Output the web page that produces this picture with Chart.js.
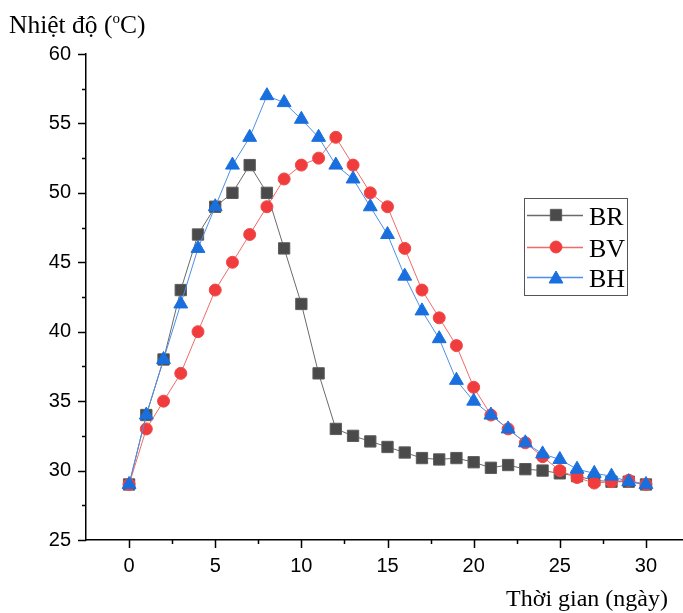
<!DOCTYPE html>
<html>
<head>
<meta charset="utf-8">
<script src="https://cdn.jsdelivr.net/npm/chart.js@4/dist/chart.umd.min.js"></script>
<style>
  html, body { margin: 0; padding: 0; background: #fff; overflow: hidden; }
  #wrap { position: relative; width: 683px; height: 613px; }
</style>
</head>
<body>
<div id="wrap"><canvas id="tempChart" width="683" height="613"></canvas></div>
<script>
// ─── Data ─────────────────────────────────────────────────────────────────────
const days = [0, 1, 2, 3, 4, 5, 6, 7, 8, 9, 10, 11, 12, 13, 14, 15, 16, 17, 18, 19, 20,
              21, 22, 23, 24, 25, 26, 27, 28, 29, 30];
const brTemp = [29, 34, 38, 43, 47, 49, 50, 52, 50, 46, 42, 37, 33, 32.5, 32.1, 31.7, 31.3,
                30.9, 30.8, 30.9, 30.6, 30.2, 30.4, 30.1, 30, 29.8, 29.6, 29.3, 29.2, 29.2, 29];
const bvTemp = [29, 33, 35, 37, 40, 43, 45, 47, 49, 51, 52, 52.5, 54, 52, 50, 49, 46, 43,
                41, 39, 36, 34, 33, 32, 31, 30, 29.5, 29.1, 29.2, 29.3, 29];
const bhTemp = [29, 34, 38, 42, 46, 49, 52, 54, 57, 56.5, 55.3, 54, 52, 51, 49, 47, 44, 41.5,
                39.5, 36.5, 35, 34, 33, 32, 31.2, 30.8, 30.1, 29.8, 29.6, 29.2, 29];
const xTicks = [0, 5, 10, 15, 20, 25, 30];
const yTicks = [25, 30, 35, 40, 45, 50, 55, 60];
const seriesNames = ['BR', 'BV', 'BH'];

const SERIF = '"Liberation Serif", "Times New Roman", serif';
const SANS = '"Liberation Sans", Arial, sans-serif';

function toPoints(ys) {
  return days.map((d, i) => ({ x: d, y: ys[i] }));
}

// ─── Plugin: minor/major tick marks ───────────────────────────────────────────
const tickMarks = {
  id: 'tickMarks',
  afterDraw(chart) {
    const { ctx, chartArea, scales: { x, y } } = chart;
    ctx.save();
    ctx.strokeStyle = '#000';
    ctx.lineWidth = 1.5;
    ctx.beginPath();
    for (let v = 0; v <= 32; v += 2.5) {
      const px = Math.round(x.getPixelForValue(v)) + 0.5;
      const len = (v % 5 === 0) ? 8 : 4;
      ctx.moveTo(px, chartArea.bottom);
      ctx.lineTo(px, chartArea.bottom + len);
    }
    for (let v = 25; v <= 60; v += 2.5) {
      const py = Math.round(y.getPixelForValue(v)) + 0.5;
      const len = (v % 5 === 0) ? 8 : 4;
      ctx.moveTo(chartArea.left, py);
      ctx.lineTo(chartArea.left - len, py);
    }
    ctx.stroke();
    ctx.restore();
  }
};

// ─── Plugin: axis titles ──────────────────────────────────────────────────────
const axisTitles = {
  id: 'axisTitles',
  afterDraw(chart) {
    const ctx = chart.ctx;
    ctx.save();
    ctx.fillStyle = '#000';
    ctx.textBaseline = 'alphabetic';
    ctx.textAlign = 'left';
    // y title with superscript degree "o"
    ctx.font = '25.5px ' + SERIF;
    let tx = 9;
    const part1 = 'Nhiệt độ (';
    ctx.fillText(part1, tx, 33);
    tx += ctx.measureText(part1).width;
    ctx.font = '15px ' + SERIF;
    ctx.fillText('o', tx, 23);
    tx += ctx.measureText('o').width;
    ctx.font = '25.5px ' + SERIF;
    ctx.fillText('C)', tx, 33);
    // x title
    ctx.font = '24px ' + SERIF;
    ctx.textAlign = 'right';
    ctx.fillText('Thời gian (ngày)', 668, 606);
    ctx.restore();
  }
};

// ─── Plugin: framed legend with line + marker samples ─────────────────────────
const boxLegend = {
  id: 'boxLegend',
  afterDraw(chart) {
    const ctx = chart.ctx;
    const box = { left: 524.5, top: 198.5, w: 103, h: 97 };
    ctx.save();
    ctx.strokeStyle = '#555';
    ctx.lineWidth = 1;
    ctx.strokeRect(box.left, box.top, box.w, box.h);
    const rows = [215, 247, 277];
    chart.data.datasets.forEach((ds, i) => {
      const yy = rows[i];
      ctx.strokeStyle = ds.borderColor;
      ctx.lineWidth = 1.5;
      ctx.beginPath();
      ctx.moveTo(527, yy + 0.5);
      ctx.lineTo(583, yy + 0.5);
      ctx.stroke();
      ctx.fillStyle = ds.pointBackgroundColor;
      ctx.strokeStyle = ds.pointBorderColor;
      ctx.lineWidth = 1;
      Chart.helpers.drawPoint(ctx, {
        pointStyle: ds.pointStyle,
        radius: ds.pointRadius,
        borderWidth: 1,
        rotation: 0
      }, 556, yy + (ds.pointStyle === 'triangle' ? 2 : 0));
      ctx.fillStyle = '#000';
      ctx.font = '26px ' + SERIF;
      ctx.textAlign = 'left';
      ctx.textBaseline = 'alphabetic';
      ctx.fillText(ds.label, 589, yy + 10);
    });
    ctx.restore();
  }
};

// ─── Chart ────────────────────────────────────────────────────────────────────
const ctx = document.getElementById('tempChart').getContext('2d');
new Chart(ctx, {
  type: 'line',
  data: {
    datasets: [
      {
        label: seriesNames[0],
        data: toPoints(brTemp),
        borderColor: '#6a6a6a',
        borderWidth: 1,
        pointStyle: 'rect',
        pointRadius: 8,
        pointBackgroundColor: '#4a4a4a',
        pointBorderColor: '#5c5c5c',
        pointBorderWidth: 1,
        order: 3
      },
      {
        label: seriesNames[1],
        data: toPoints(bvTemp),
        borderColor: '#f06a6a',
        borderWidth: 1,
        pointStyle: 'circle',
        pointRadius: 6,
        pointBackgroundColor: '#f03c3c',
        pointBorderColor: '#f04848',
        pointBorderWidth: 1,
        order: 2
      },
      {
        label: seriesNames[2],
        data: toPoints(bhTemp),
        borderColor: '#4d8fe8',
        borderWidth: 1,
        pointStyle: 'triangle',
        pointRadius: 8,
        pointBackgroundColor: '#1a6fdf',
        pointBorderColor: '#1a6fdf',
        pointBorderWidth: 1,
        order: 1
      }
    ]
  },
  options: {
    responsive: false,
    animation: false,
    events: [],
    layout: { autoPadding: false, padding: { left: 0, top: 54, right: 0, bottom: 0 } },
    plugins: {
      legend: { display: false },
      tooltip: { enabled: false }
    },
    scales: {
      x: {
        type: 'linear',
        min: -2.5,
        max: 32.15,
        afterBuildTicks: s => { s.ticks = xTicks.map(v => ({ value: v })); },
        afterFit: s => { s.height = 73; s.paddingLeft = 0; s.paddingRight = 0; },
        grid: { display: true, drawOnChartArea: false, drawTicks: false },
        border: { display: true, color: '#000', width: 1.5 },
        ticks: { color: '#000', padding: 14, font: { family: SANS, size: 20 }, maxRotation: 0 }
      },
      y: {
        min: 25,
        max: 60,
        afterBuildTicks: s => { s.ticks = yTicks.map(v => ({ value: v })); },
        afterFit: s => { s.width = 86; s.paddingTop = 0; s.paddingBottom = 0; },
        grid: { display: true, drawOnChartArea: false, drawTicks: false },
        border: { display: true, color: '#000', width: 1.5 },
        ticks: { color: '#000', padding: 15, font: { family: SANS, size: 20 } }
      }
    }
  },
  plugins: [tickMarks, axisTitles, boxLegend]
});
</script>
</body>
</html>
